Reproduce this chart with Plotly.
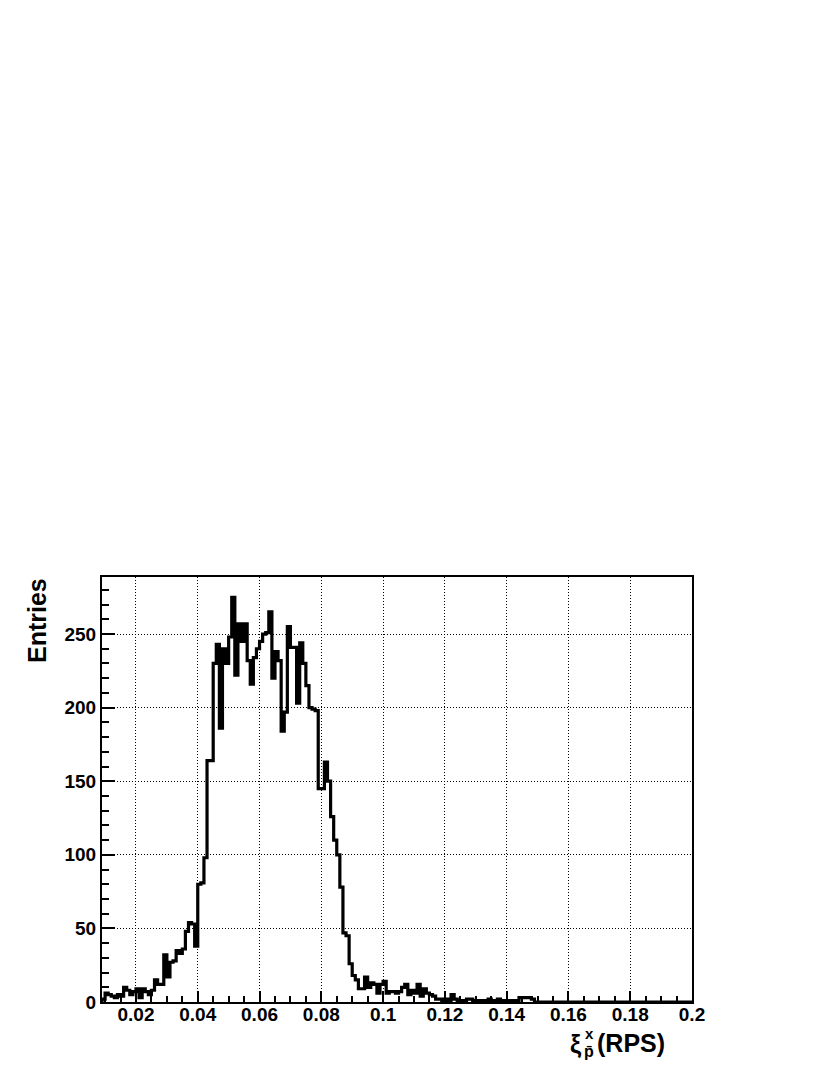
import plotly.graph_objects as go

# Histogram definition (bins of width 0.001 starting at 0.009)
bin_low = 0.009
bin_width = 0.001
counts = [
    2, 6, 5, 4, 3, 5, 4, 10, 8, 5,
    7, 9, 3, 9, 7, 5, 8, 15, 12, 12,
    32, 17, 27, 28, 35, 33, 36, 48, 54, 53,
    38, 80, 81, 98, 164, 164, 230, 243, 186, 240,
    230, 248, 275, 222, 257, 245, 257, 232, 216, 234,
    240, 245, 250, 251, 265, 220, 238, 232, 184, 197,
    255, 241, 241, 203, 244, 230, 215, 200, 199, 198,
    145, 145, 163, 150, 126, 110, 100, 78, 47, 45,
    26, 18, 15, 9, 9, 17, 10, 13, 12, 6,
    12, 14, 6, 7, 7, 6, 7, 10, 12, 5,
    8, 6, 12, 4, 9, 6, 5, 4, 2, 2,
    1, 2, 1, 5, 2, 1, 1, 0, 2, 2,
    1, 1, 0, 1, 0, 2, 1, 1, 2, 1,
    1, 0, 1, 0, 1, 3, 3, 3, 3, 2,
    0, 0, 0, 0, 0, 0, 0, 0, 0, 0,
    0, 0, 0, 0, 0, 0, 0, 0, 0, 0,
    0, 0, 0, 0, 0, 0, 0, 0, 0, 0,
    0, 0, 0, 0, 0, 0, 0, 0, 0, 0,
    0, 0, 0, 0, 0, 0, 0, 0, 0, 0,
    0,
]

x_tickvals = [0.02, 0.04, 0.06, 0.08, 0.10, 0.12, 0.14, 0.16, 0.18, 0.20]
x_ticktext = ["0.02", "0.04", "0.06", "0.08", "0.1", "0.12", "0.14", "0.16", "0.18", "0.2"]
y_tickvals = [0, 50, 100, 150, 200, 250]
y_ticktext = ["0", "50", "100", "150", "200", "250"]

x_range = [0.009, 0.2]
y_range = [0, 288.75]

# build step outline
edges = [bin_low + i * bin_width for i in range(len(counts) + 1)]
xs = [edges[0]] + edges
ys = [0] + counts + [counts[-1]]

fig = go.Figure()
fig.add_trace(go.Scatter(
    x=xs, y=ys, mode="lines", line=dict(color="black", width=3.2, shape="hv"),
    hoverinfo="skip", showlegend=False,
))

FONT = "Liberation Sans, Arial, sans-serif"
fig.update_layout(
    width=822, height=1067,
    margin=dict(l=94, r=138, t=569, b=73, pad=0),
    paper_bgcolor="white", plot_bgcolor="white",
    showlegend=False,
    font=dict(family=FONT, color="black"),
)
fig.update_xaxes(
    range=x_range, tickvals=x_tickvals, ticktext=x_ticktext,
    showline=True, linecolor="black", linewidth=2, mirror=True,
    ticks="inside", ticklen=11, tickwidth=1.5, tickcolor="black",
    minor=dict(dtick=0.005, tick0=0.0, ticks="inside", ticklen=6, tickwidth=1.5,
               tickcolor="black", showgrid=False),
    showgrid=True, gridcolor="black", griddash="1px,2px", gridwidth=1,
    zeroline=False, ticklabelstandoff=-6,
    tickfont=dict(family=FONT, size=19, weight="bold", color="black"),
)
fig.update_yaxes(
    range=y_range, tickvals=y_tickvals, ticktext=y_ticktext,
    showline=True, linecolor="black", linewidth=2, mirror=True,
    ticks="inside", ticklen=13, tickwidth=1.5, tickcolor="black",
    minor=dict(dtick=10, tick0=0, ticks="inside", ticklen=7, tickwidth=1.5,
               tickcolor="black", showgrid=False),
    showgrid=True, gridcolor="black", griddash="1px,2px", gridwidth=1,
    zeroline=False,
    tickfont=dict(family=FONT, size=19, weight="bold", color="black"),
)

# axis titles as positioned text (page pixel coords -> paper coords)
def px(xp):
    return (xp - 102) / 590.0

def py(yp):
    return (1002 - yp) / 425.0

ann = [
    dict(text="Entries", x=px(37), y=py(621), textangle=-90, size=25, xanchor="center"),
    dict(text="ξ", x=px(576), y=py(1044), size=25, xanchor="center"),
    dict(text="x", x=px(589), y=py(1033), size=15, xanchor="center"),
    dict(text="p̄", x=px(589), y=py(1051), size=16, xanchor="center"),
    dict(text="(RPS)", x=px(667), y=py(1043), size=25, xanchor="right"),
]
for a in ann:
    fig.add_annotation(
        text=a["text"], x=a["x"], y=a["y"], xref="paper", yref="paper",
        xanchor=a["xanchor"], yanchor="middle", showarrow=False,
        textangle=a.get("textangle", 0),
        font=dict(family=FONT, size=a["size"], weight="bold", color="black"),
    )

fig.write_html("out.html")
